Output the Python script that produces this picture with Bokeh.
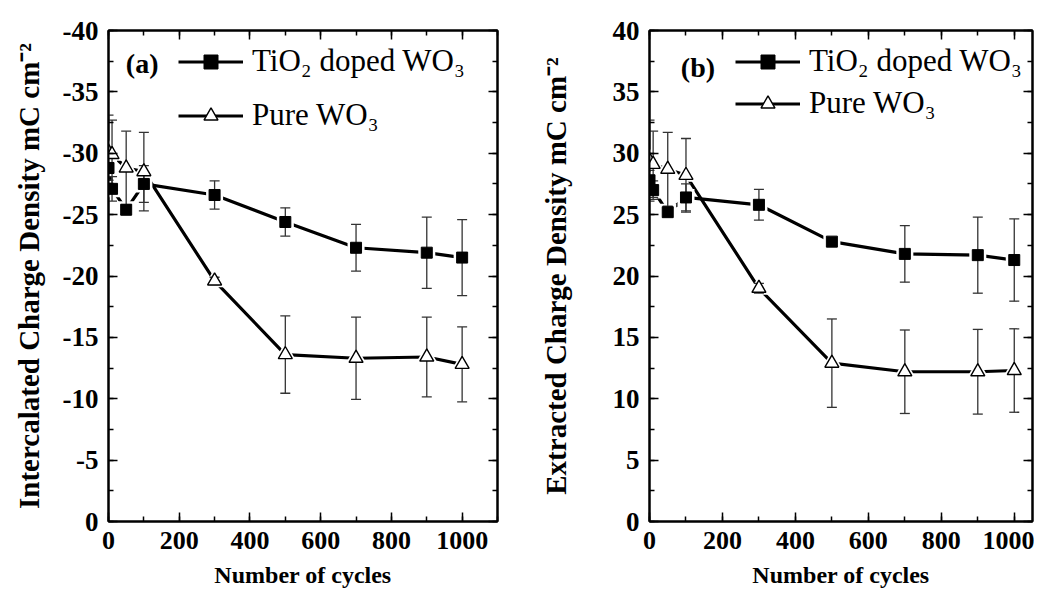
from bokeh.plotting import figure
from bokeh.models import (Range1d, SingleIntervalTicker, LinearAxis, ColumnDataSource,
                          Legend, LegendItem, Label, CustomJSTickFormatter)
from bokeh.layouts import row
from bokeh.embed import file_html
from bokeh.resources import INLINE

# ---------------- data ----------------
cycles = [0, 10, 50, 100, 300, 500, 700, 900, 1000]

a_doped = [-28.8, -27.1, -25.4, -27.5, -26.6, -24.4, -22.3, -21.9, -21.5]
a_doped_err = [1.0, 1.0, 0.4, 1.5, 1.15, 1.15, 1.9, 2.9, 3.1]
a_pure = [-30.1, -29.9, -28.8, -28.5, -19.6, -13.6, -13.3, -13.4, -12.8]
a_pure_err = [3.0, 2.8, 3.0, 3.2, 0.3, 3.15, 3.35, 3.25, 3.05]

b_doped = [27.8, 27.0, 25.2, 26.4, 25.8, 22.8, 21.8, 21.7, 21.3]
b_doped_err = [0.8, 0.75, 0.3, 1.1, 1.25, 0.3, 2.3, 3.1, 3.35]
b_pure = [29.4, 29.1, 28.7, 28.2, 19.0, 12.9, 12.2, 12.2, 12.3]
b_pure_err = [3.3, 2.7, 3.0, 3.0, 0.4, 3.6, 3.4, 3.45, 3.4]

label_doped = "TiO\u2082 doped WO\u2083"
label_pure = "Pure WO\u2083"
x_title = "Number of cycles"
a_title = "Intercalated Charge Density mC cm\u207b\u00b2"
b_title = "Extracted Charge Density mC cm\u207b\u00b2"

FONT = "Liberation Serif"


def style_axis(ax, show_labels, tick_in=9, minor_in=5):
    ax.axis_line_width = 2
    ax.axis_line_color = "black"
    ax.major_tick_in = tick_in
    ax.major_tick_out = 0
    ax.minor_tick_in = minor_in
    ax.minor_tick_out = 0
    ax.major_tick_line_width = 1.5
    ax.minor_tick_line_width = 1.5
    ax.major_tick_line_color = "black"
    ax.minor_tick_line_color = "black"
    if show_labels:
        ax.formatter = CustomJSTickFormatter(code="return tick.toFixed(0);")
        ax.major_label_text_font = FONT
        ax.major_label_text_font_style = "bold"
        ax.major_label_text_color = "black"
    else:
        ax.formatter = CustomJSTickFormatter(code="return '';")
        ax.major_label_standoff = 0


def make_panel(xs, doped, doped_err, pure, pure_err, y_start, y_end, x_end,
               width, mb_left, mb_right, mb_top, mb_bottom, ytitle,
               ytitle_standoff, tag, tag_x, tag_y, leg_x, leg_y, leg_spacing):
    p = figure(width=width, height=597, x_range=Range1d(0, x_end),
               y_range=Range1d(y_start, y_end), output_backend="svg",
               toolbar_location=None, min_border_left=mb_left,
               min_border_right=mb_right, min_border_top=mb_top,
               min_border_bottom=mb_bottom)
    p.xgrid.visible = False
    p.ygrid.visible = False
    p.outline_line_color = "black"
    p.outline_line_width = 2
    p.background_fill_color = "white"
    p.border_fill_color = "white"

    bx = p.below[0]
    ly = p.left[0]
    bx.ticker = SingleIntervalTicker(interval=200, num_minor_ticks=2)
    ly.ticker = SingleIntervalTicker(interval=5, num_minor_ticks=2)
    style_axis(bx, True)
    style_axis(ly, True)
    bx.major_label_text_font_size = "26px"
    ly.major_label_text_font_size = "27px"
    bx.major_label_standoff = 10
    ly.major_label_standoff = 10
    bx.axis_label = x_title
    ly.axis_label = ytitle
    for ax in (bx, ly):
        ax.axis_label_text_font = FONT
        ax.axis_label_text_font_style = "bold"
        ax.axis_label_text_color = "black"
    bx.axis_label_text_font_size = "24px"
    ly.axis_label_text_font_size = "29px"
    bx.axis_label_standoff = 10
    ly.axis_label_standoff = ytitle_standoff

    top = LinearAxis(ticker=SingleIntervalTicker(interval=200, num_minor_ticks=2))
    right = LinearAxis(ticker=SingleIntervalTicker(interval=5, num_minor_ticks=2))
    style_axis(top, False)
    style_axis(right, False)
    p.add_layout(top, "above")
    p.add_layout(right, "right")

    src_d = ColumnDataSource(dict(x=xs, y=doped,
                                  lo=[v - e for v, e in zip(doped, doped_err)],
                                  hi=[v + e for v, e in zip(doped, doped_err)]))
    src_p = ColumnDataSource(dict(x=xs, y=pure,
                                  lo=[v - e for v, e in zip(pure, pure_err)],
                                  hi=[v + e for v, e in zip(pure, pure_err)]))

    line_d = p.line("x", "y", source=src_d, line_color="black", line_width=3.2)
    line_p = p.line("x", "y", source=src_p, line_color="black", line_width=3.2)
    halo_d = p.scatter("x", "y", source=src_d, marker="square", size=17,
                       fill_color="white", line_color=None)
    halo_p = p.scatter("x", "y", source=src_p, marker="triangle", size=22,
                       fill_color="white", line_color=None)
    for s in (src_d, src_p):
        p.segment("x", "lo", "x", "hi", source=s, line_color="#333333", line_width=1.3)
        p.scatter("x", "lo", source=s, marker="dash", size=10, line_color="#333333",
                  line_width=1.3)
        p.scatter("x", "hi", source=s, marker="dash", size=10, line_color="#333333",
                  line_width=1.3)
    mark_d = p.scatter("x", "y", source=src_d, marker="square", size=11,
                       fill_color="black", line_color="black")
    mark_p = p.scatter("x", "y", source=src_p, marker="triangle", size=14,
                       fill_color="white", line_color="black", line_width=1.4)

    legend = Legend(items=[LegendItem(label=label_doped, renderers=[line_d, halo_d, mark_d]),
                           LegendItem(label=label_pure, renderers=[line_p, halo_p, mark_p])],
                    location=(leg_x, leg_y), border_line_color=None,
                    background_fill_alpha=0, padding=0, margin=0,
                    spacing=leg_spacing, glyph_width=65, glyph_height=35,
                    label_height=35, label_standoff=9,
                    label_text_font=FONT, label_text_font_size="31px",
                    label_text_color="black")
    p.add_layout(legend)

    p.add_layout(Label(x=tag_x, y=tag_y, text=tag, text_font=FONT,
                       text_font_style="bold", text_font_size="28px",
                       text_baseline="middle", text_color="black"))
    return p


pa = make_panel(cycles, a_doped, a_doped_err, a_pure, a_pure_err, 0, -40, 1100,
                width=528, mb_left=108, mb_right=31, mb_top=30, mb_bottom=76,
                ytitle=a_title, ytitle_standoff=15, tag="(a)", tag_x=49, tag_y=-37.3,
                leg_x=70, leg_y=388, leg_spacing=18)
pb = make_panel(cycles, b_doped, b_doped_err, b_pure, b_pure_err, 0, 40, 1050,
                width=506, mb_left=121, mb_right=2, mb_top=25, mb_bottom=75,
                ytitle=b_title, ytitle_standoff=38, tag="(b)", tag_x=86, tag_y=36.96,
                leg_x=86, leg_y=400, leg_spacing=6)

layout = row(pa, pb)
open("out.html", "w").write(file_html(layout, INLINE))
